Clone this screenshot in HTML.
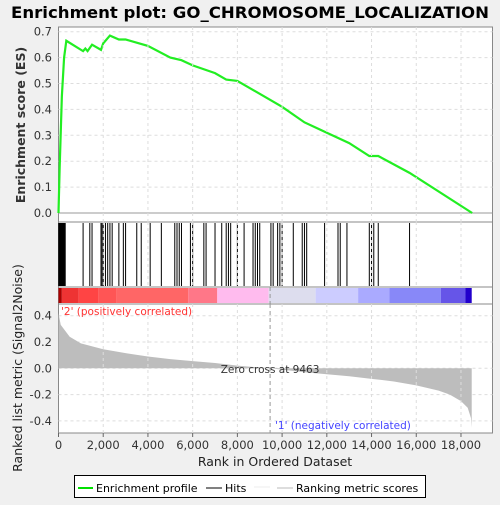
<!DOCTYPE html>
<html><head><meta charset="utf-8"><style>
body{margin:0;background:#f0f0f0;font-family:"Liberation Sans","DejaVu Sans",sans-serif;}
svg text{font-family:"DejaVu Sans","Liberation Sans",sans-serif;}
</style></head><body>
<svg id="c" width="500" height="500" xmlns="http://www.w3.org/2000/svg">
<rect width="500" height="500" fill="#f0f0f0"/>
<text x="250" y="18" text-anchor="middle" font-size="16" font-weight="bold" fill="#000" textLength="478" lengthAdjust="spacingAndGlyphs">Enrichment plot: GO_CHROMOSOME_LOCALIZATION</text>
<g id="es"></g><g id="hits"></g><g id="cbar"></g><g id="metric"></g><g id="axes"></g>
<g>
<rect x="74.5" y="475.5" width="351" height="22" fill="#fff" stroke="#000"/>
<line x1="78" y1="488" x2="93" y2="488" stroke="#00e000" stroke-width="2"/>
<text x="96" y="492" font-size="11">Enrichment profile</text>
<line x1="206" y1="488" x2="222" y2="488" stroke="#000"/>
<text x="225" y="492" font-size="11">Hits</text>
<line x1="254" y1="487" x2="270" y2="487" stroke="#eee"/>
<line x1="277" y1="488" x2="293" y2="488" stroke="#bbb"/>
<text x="296" y="492" font-size="11">Ranking metric scores</text>
</g>
</svg>
<script>
const esRanks=[0,50,150,250,350,1100,1200,1300,1500,1900,2000,2300,2700,3000,4000,5000,5500,6000,7000,7500,8000,9000,10000,11000,12000,13000,13900,14300,15700,18500];
const esValues=[0,0.17,0.45,0.6,0.665,0.625,0.635,0.625,0.65,0.63,0.655,0.685,0.67,0.67,0.645,0.6,0.59,0.57,0.54,0.515,0.51,0.46,0.41,0.35,0.31,0.27,0.22,0.22,0.155,0];
const hitRanks=[10,30,50,70,90,110,130,150,170,190,210,240,270,300,1100,1400,1500,1900,1950,2000,2100,2200,2300,2400,2700,2900,3000,3500,3700,4100,4600,5200,5300,5400,5500,5900,6000,6500,6600,7000,7300,7500,7600,7700,8000,8300,8700,8800,8900,9000,9500,9600,9800,9900,10000,10500,10900,11000,11100,11900,12500,12600,12900,13900,14000,14100,14300,15700];
const metricRanks=[0,100,500,1000,2000,3000,4000,5000,6000,7000,8000,9463,10000,11000,12000,13000,14000,15000,16000,17000,17500,18000,18300,18450,18480];
const metricValues=[0.42,0.33,0.24,0.19,0.145,0.115,0.09,0.07,0.055,0.04,0.02,0,-0.01,-0.03,-0.045,-0.06,-0.08,-0.1,-0.13,-0.17,-0.2,-0.25,-0.3,-0.38,-0.45];
const xTicks=[0,2000,4000,6000,8000,10000,12000,14000,16000,18000];
const esTicks=[0,0.1,0.2,0.3,0.4,0.5,0.6,0.7];
const mTicks=[-0.4,-0.2,0,0.2,0.4];
const cbarStops=[0,150,900,1800,2600,5800,7100,9400,11500,13400,14800,17100,18200,18480];
const cbarColors=["#a00","#e33","#f44","#f55","#f66","#f78","#fbe","#dde","#ccf","#aaf","#8888f8","#6655e8","#2200cc","#5010a8"];
const NS="http://www.w3.org/2000/svg";
const L=58.5,R=492.5;
const X=r=>58.5+r*22.36/1000;
const Yes=v=>213-v*259;
const Ym=v=>368.3-v*131.5;
function mk(t,a,p){const e=document.createElementNS(NS,t);for(const k in a)e.setAttribute(k,a[k]);p.appendChild(e);return e;}
const es=document.getElementById('es'),hits=document.getElementById('hits'),cb=document.getElementById('cbar'),mt=document.getElementById('metric'),ax=document.getElementById('axes');
mk('rect',{x:L,y:27,width:R-L,height:195,fill:'#fff',stroke:'#888'},es);
mk('rect',{x:L,y:222,width:R-L,height:65,fill:'#fff',stroke:'#888'},hits);
mk('rect',{x:L,y:287,width:R-L,height:17,fill:'#fff',stroke:'#888'},cb);
mk('rect',{x:L,y:304,width:R-L,height:129,fill:'#fff',stroke:'#888'},mt);
xTicks.forEach(t=>{
 [[27,222],[222,287],[304,433]].forEach(([a,b])=>{if(t>0){mk('line',{x1:X(t),x2:X(t),y1:a,y2:b,stroke:'#ddd','stroke-dasharray':'3,3'},ax);}});
 mk('line',{x1:X(t),x2:X(t),y1:433,y2:437,stroke:'#666'},ax);
 const tx=mk('text',{x:X(t),y:449,'text-anchor':'middle','font-size':'11.5',fill:'#333'},ax);tx.textContent=t.toLocaleString('en-US');
 
 
});
esTicks.forEach(t=>{
 mk('line',{x1:L,x2:R,y1:Yes(t),y2:Yes(t),stroke:t===0?'#999':'#ddd','stroke-dasharray':t===0?'':'3,3'},es);
 const tx=mk('text',{x:52,y:Yes(t)+4,'text-anchor':'end','font-size':'11.5',fill:'#333'},ax);tx.textContent=t.toFixed(1);
 
 
});
mTicks.forEach(t=>{
 mk('line',{x1:L,x2:R,y1:Ym(t),y2:Ym(t),stroke:'#ddd','stroke-dasharray':'3,3'},mt);
 const tx=mk('text',{x:52,y:Ym(t)+4,'text-anchor':'end','font-size':'11.5',fill:'#333'},ax);tx.textContent=t.toFixed(1);
 
 
});
const esl=mk('polyline',{points:esRanks.map((r,i)=>X(r)+','+Yes(esValues[i])).join(' '),fill:'none',stroke:'#22ee22','stroke-width':2.2},es);


hitRanks.forEach(r=>{const h=mk('line',{x1:X(r),x2:X(r),y1:223,y2:286,stroke:'#000','stroke-width':1},hits);
 
 });
for(let i=0;i<cbarColors.length;i++){const a=cbarStops[i],b=i+1<cbarStops.length?cbarStops[i+1]:18480;if(b<=a)continue;
 const s=mk('rect',{x:X(a),y:288,width:X(b)-X(a),height:15,fill:cbarColors[i]},cb);
 
 }
let pts=X(0)+','+Ym(0)+' '+metricRanks.map((r,i)=>X(r)+','+Ym(metricValues[i])).join(' ')+' '+X(metricRanks[metricRanks.length-1])+','+Ym(0);
const ar=mk('polygon',{points:pts,fill:'#bdbdbd'},mt);


mk('line',{x1:X(9463),x2:X(9463),y1:304,y2:433,stroke:'#999','stroke-dasharray':'4,3'},mt);
mk('line',{x1:X(9463),x2:X(9463),y1:287,y2:304,stroke:'#999','stroke-dasharray':'4,3'},cb);
function txt(x,y,s,attrs,name){const t=mk('text',Object.assign({x:x,y:y},attrs),ax);t.textContent=s;return t;}
txt(X(9463),373,'Zero cross at 9463',{'text-anchor':'middle','font-size':'10.5',fill:'#333'},'zero-cross-label');
txt(61,315,"'2' (positively correlated)",{'font-size':'10.5',fill:'#f33'},'positive-label');
txt(275,429,"'1' (negatively correlated)",{'font-size':'10.5',fill:'#44f'},'negative-label');
txt(275,466,'Rank in Ordered Dataset',{'text-anchor':'middle','font-size':'12.5',fill:'#222'},'x-axis-title');
txt(0,0,'Enrichment score (ES)',{'text-anchor':'middle','font-size':'12.5','font-weight':'bold',fill:'#333',transform:'translate(25,125) rotate(-90)'},'es-axis-title');
txt(0,0,'Ranked list metric (Signal2Noise)',{'text-anchor':'middle','font-size':'12.5',fill:'#222',transform:'translate(22,368) rotate(-90)'},'metric-axis-title');
</script>
</body></html>
